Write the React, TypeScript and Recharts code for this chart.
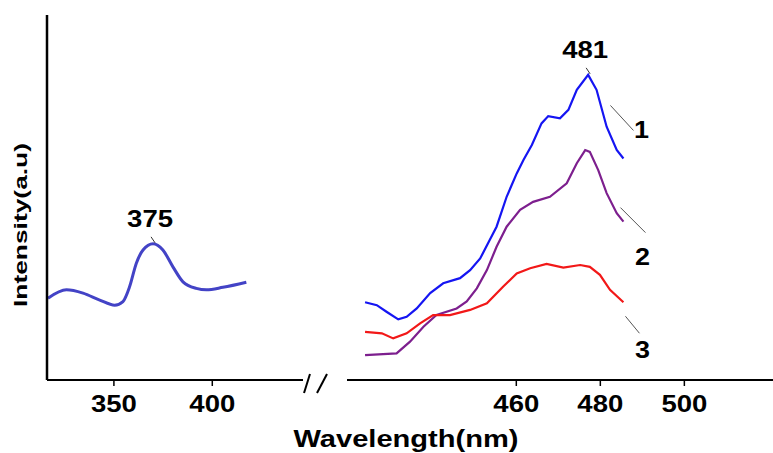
import React from 'react';
import { LineChart, Line, XAxis, YAxis, ReferenceDot } from 'recharts';

// excitation spectrum (left panel)
const excNm = [316.5, 325.9, 334.3, 342.8, 350.4, 354.6, 358.0, 361.4, 364.8, 369.9, 374.9, 380.0, 385.1, 391.9, 397.0, 405.4, 417.3];
const excI = [22.4, 24.7, 23.8, 21.9, 20.5, 21.5, 25.6, 32.0, 35.6, 37.3, 35.6, 31.0, 26.9, 25.1, 24.7, 25.4, 26.8];

// emission spectra (right panel)
const em1Nm = [424.0, 426.8, 429.1, 431.9, 433.9, 436.3, 439.5, 442.6, 446.6, 449.0, 451.4, 453.7, 455.3, 457.7, 460.1, 461.7, 463.7, 466.0, 467.6, 470.4, 472.4, 474.4, 477.1, 479.1, 481.5, 483.9, 485.5];
const em1I = [21.3, 20.5, 18.7, 16.6, 17.3, 19.6, 23.8, 26.5, 27.9, 30.1, 33.3, 38.4, 42.0, 50.2, 56.6, 60.3, 64.4, 70.3, 72.3, 71.7, 74.0, 79.5, 83.6, 79.5, 69.4, 63.0, 60.7];

const em2Nm = [424.0, 431.5, 434.7, 437.9, 441.0, 445.8, 448.2, 450.6, 453.0, 455.3, 457.7, 460.9, 464.0, 468.0, 472.0, 474.4, 476.4, 477.5, 479.5, 481.5, 483.9, 485.5];
const em2I = [6.8, 7.3, 10.5, 14.6, 17.8, 19.6, 21.5, 25.1, 30.1, 36.5, 42.0, 46.6, 48.8, 50.2, 53.9, 59.4, 63.0, 62.5, 57.5, 51.2, 45.7, 43.4];

const em3Nm = [424.0, 428.0, 430.7, 433.9, 437.1, 440.2, 444.2, 449.0, 453.0, 456.9, 460.1, 463.3, 467.2, 471.2, 475.2, 477.5, 479.9, 482.3, 485.5];
const em3I = [13.2, 12.8, 11.4, 12.8, 15.5, 17.8, 17.8, 19.2, 21.0, 25.6, 29.2, 30.6, 31.8, 30.8, 31.5, 31.0, 28.8, 24.7, 21.3];

const leftTicks = [350, 400];
const rightTicks = [460, 480, 500];
const peakLabels = ['375', '481'];
const seriesNames = ['1', '2', '3'];

const FONT = "'Liberation Sans', Arial, Helvetica, sans-serif";

const toRows = (xs: number[], ys: number[]) => xs.map((nm, i) => ({ nm, v: ys[i] }));
const excData = toRows(excNm, excI);
const em1 = toRows(em1Nm, em1I);
const em2 = toRows(em2Nm, em2I);
const em3 = toRows(em3Nm, em3I);

const peakOf = (rows: { nm: number; v: number }[]) => rows.reduce((a, b) => (b.v > a.v ? b : a));

const StretchTick = (props: any) => {
  const { x, y, payload } = props;
  const s = String(payload.value);
  return (
    <text x={x} y={y + 24} textAnchor="middle" fontFamily={FONT} fontWeight="bold" fontSize={23}
      fill="#000" textLength={s.length * 15.3} lengthAdjust="spacingAndGlyphs">
      {s}
    </text>
  );
};

const peakShape = (text: string) => (p: any) => (
  <g>
    <text x={p.cx - 3} y={p.cy - 17} textAnchor="middle" fontFamily={FONT} fontWeight="bold"
      fontSize={23} fill="#000" textLength={46} lengthAdjust="spacingAndGlyphs">{text}</text>
    <line x1={p.cx - 2} y1={p.cy - 7} x2={p.cx + 2} y2={p.cy - 1} stroke="#333" strokeWidth={1} />
  </g>
);

// leader line + number offsets from the end point of each curve
const seriesLabelOffsets = [
  { l: [-13, -53, 10, -28], t: [18, -20] },
  { l: [-3, -14, 22, 11], t: [19, 43] },
  { l: [2, 14, 16, 31], t: [19, 56] },
];

const seriesShape = (text: string, i: number) => (p: any) => {
  const o = seriesLabelOffsets[i];
  return (
    <g>
      <line x1={p.cx + o.l[0]} y1={p.cy + o.l[1]} x2={p.cx + o.l[2]} y2={p.cy + o.l[3]} stroke="#555" strokeWidth={1} />
      <text x={p.cx + o.t[0]} y={p.cy + o.t[1]} textAnchor="middle" fontFamily={FONT} fontWeight="bold"
        fontSize={23} fill="#000" textLength={15} lengthAdjust="spacingAndGlyphs">{text}</text>
    </g>
  );
};

const axisLine = { stroke: '#000', strokeWidth: 2 };
const tickLine = { stroke: '#000', strokeWidth: 1.5 };

export default function App() {
  const excPeak = peakOf(excData);
  const emPeak = peakOf(em1);
  const ends = [em1, em2, em3].map((r) => r[r.length - 1]);

  return (
    <div style={{ position: 'absolute', left: 0, top: 0, width: 773, height: 453, background: '#fff', overflow: 'hidden' }}>
      <div style={{ position: 'absolute', left: 0, top: 0 }}>
        <LineChart width={310} height={453} margin={{ top: 15, right: 7, bottom: 43, left: 0 }}>
          <XAxis type="number" dataKey="nm" domain={[316, 446.1]} ticks={leftTicks} allowDataOverflow
            axisLine={axisLine} tickLine={tickLine} tickSize={6} tick={<StretchTick />} height={30} interval={0} />
          <YAxis type="number" domain={[0, 100]} width={47} tick={false} tickLine={false}
            axisLine={{ stroke: '#000', strokeWidth: 2.5 }} allowDataOverflow />
          <Line data={excData} dataKey="v" type="monotone" stroke="#4343c6" strokeWidth={3}
            dot={false} isAnimationActive={false} />
          <ReferenceDot x={excPeak.nm} y={excPeak.v} r={0} shape={peakShape(peakLabels[0])} />
        </LineChart>
      </div>
      <div style={{ position: 'absolute', left: 347, top: 0 }}>
        <LineChart width={426} height={453} margin={{ top: 15, right: 0, bottom: 43, left: 0 }}>
          <XAxis type="number" dataKey="nm" domain={[419.7, 521.1]} ticks={rightTicks} allowDataOverflow
            axisLine={axisLine} tickLine={tickLine} tickSize={6} tick={<StretchTick />} height={30} interval={0} />
          <YAxis type="number" domain={[0, 100]} hide allowDataOverflow />
          <Line data={em1} dataKey="v" type="linear" stroke="#1515f2" strokeWidth={2.2} dot={false} isAnimationActive={false} />
          <Line data={em2} dataKey="v" type="linear" stroke="#7d1f8e" strokeWidth={2.2} dot={false} isAnimationActive={false} />
          <Line data={em3} dataKey="v" type="linear" stroke="#f21818" strokeWidth={2.2} dot={false} isAnimationActive={false} />
          <ReferenceDot x={emPeak.nm} y={emPeak.v} r={0} shape={peakShape(peakLabels[1])} />
          {ends.map((e, i) => (
            <ReferenceDot key={seriesNames[i]} x={e.nm} y={e.v} r={0} shape={seriesShape(seriesNames[i], i)} />
          ))}
        </LineChart>
      </div>
      <svg width={773} height={453} style={{ position: 'absolute', left: 0, top: 0, pointerEvents: 'none' }}>
        <line x1={304} y1={393} x2={310} y2={374} stroke="#000" strokeWidth={2} />
        <line x1={317} y1={393} x2={327} y2={374} stroke="#000" strokeWidth={2} />
        <text x={27} y={225} transform="rotate(-90, 27, 225)" textAnchor="middle" fontFamily={FONT}
          fontWeight="bold" fontSize={19} fill="#000" textLength={164} lengthAdjust="spacingAndGlyphs">
          Intensity(a.u)
        </text>
        <text x={406} y={447} textAnchor="middle" fontFamily={FONT} fontWeight="bold" fontSize={23}
          fill="#000" textLength={225} lengthAdjust="spacingAndGlyphs">
          Wavelength(nm)
        </text>
      </svg>
    </div>
  );
}
